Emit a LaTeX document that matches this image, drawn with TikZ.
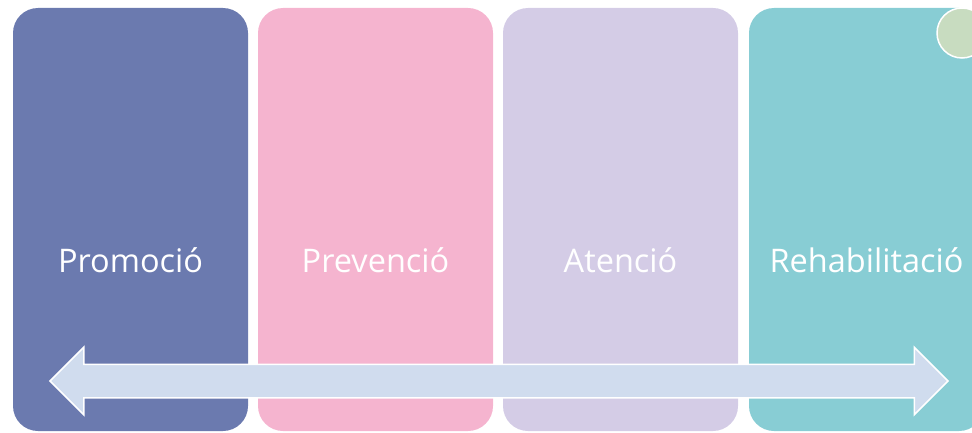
\documentclass[tikz,border=0pt]{standalone}
\usepackage{fontspec}
\setmainfont{Open Sans}
\usepackage{tikz}
\usetikzlibrary{shapes.arrows}
\definecolor{promo}{HTML}{6B7AAF}
\definecolor{preven}{HTML}{F5B4CF}
\definecolor{aten}{HTML}{D4CCE6}
\definecolor{rehab}{HTML}{88CDD4}
\definecolor{cercle}{HTML}{C8DCC0}
\definecolor{eixfill}{HTML}{D0DCEE}

\begin{document}
\begin{tikzpicture}[x=1pt,y=1pt,
        stage/.style={rectangle, rounded corners=25pt, minimum width=235pt, minimum height=423pt, inner sep=0pt},
        stagetext/.style={anchor=base, text=white, font=\fontsize{32.5}{39}\selectfont}]
        \clip (0,0) rectangle (972,432);

        % Draw the four stages
        \node[stage, fill=promo] (promocio) at (130.5,212.5) {};
        \node[stage, fill=preven] (prevencio) at (375.5,212.5) {};
        \node[stage, fill=aten] (atencio) at (620.5,212.5) {};
        \node[stage, fill=rehab] (rehabilitacio) at (866.5,212.5) {};

        % Stage names
        \node[stagetext] (promociotext) at (promocio.center |- 0,160) {Promoció};
        \node[stagetext] (prevenciotext) at (prevencio.center |- 0,160) {Prevenció};
        \node[stagetext] (atenciotext) at (atencio.center |- 0,160) {Atenció};
        \node[stagetext] (rehabilitaciotext) at (rehabilitacio.center |- 0,160) {Rehabilitació};

        % Small circle at the corner
        \node[circle, fill=cercle, draw=white, line width=1.5pt, minimum size=50pt, inner sep=0pt] (marca) at (962,399) {};

        % Double arrow across the stages
        \node[double arrow, fill=eixfill, draw=white, line width=1.5pt, minimum height=898pt,
              text height=16pt, text depth=16pt, text width=0pt,
              double arrow head extend=17pt, inner sep=0pt] (eix) at (499,51) {};
    \end{tikzpicture}
\end{document}
